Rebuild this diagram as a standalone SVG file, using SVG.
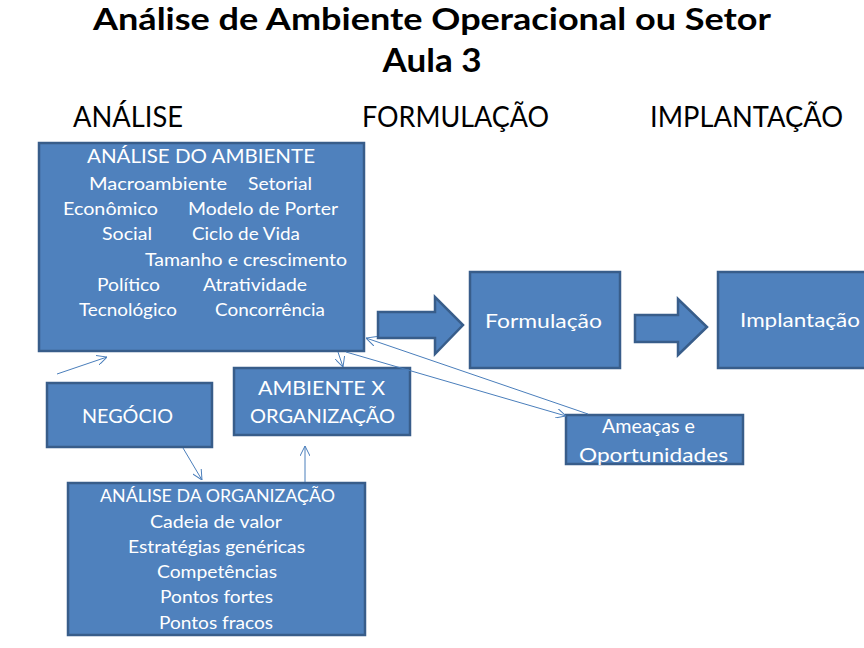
<svg xmlns="http://www.w3.org/2000/svg" width="864" height="648" viewBox="0 0 864 648">
<style>
.box{fill:#4F81BD;stroke:#385D8A;stroke-width:2.5}
.t{font-family:Lato,"Open Sans","Liberation Sans",sans-serif;fill:#FFFFFF}
.h{font-family:Lato,"Open Sans","Liberation Sans",sans-serif;fill:#000000}
.c{fill:none;stroke:#4A7EBB;stroke-width:1}
</style>
<defs>
<marker id="ah" viewBox="0 0 10 10" refX="10" refY="5" markerWidth="10" markerHeight="10" markerUnits="userSpaceOnUse" orient="auto">
<path d="M0,0 L10,5 L0,10" fill="none" stroke="#4A7EBB" stroke-width="1"/>
</marker>
</defs>
<rect width="864" height="648" fill="#FFFFFF"/>

<g id="title">
<text class="h" x="432" y="30" font-size="30" font-weight="bold" text-anchor="middle" textLength="678" lengthAdjust="spacingAndGlyphs">Análise de Ambiente Operacional ou Setor</text>
<text class="h" x="432" y="72" font-size="32" font-weight="bold" text-anchor="middle" textLength="99" lengthAdjust="spacingAndGlyphs">Aula 3</text>
</g>
<g id="headers">
<text class="h" x="73" y="127" font-size="28" textLength="110" lengthAdjust="spacingAndGlyphs">ANÁLISE</text>
<text class="h" x="362" y="127" font-size="28" textLength="187" lengthAdjust="spacingAndGlyphs">FORMULAÇÃO</text>
<text class="h" x="650" y="127" font-size="28" textLength="193" lengthAdjust="spacingAndGlyphs">IMPLANTAÇÃO</text>
</g>

<g id="analise-ambiente">
<rect class="box" x="39" y="143" width="325" height="208"/>
<g class="t" font-size="18.5">
<text x="87" y="163" textLength="228" lengthAdjust="spacingAndGlyphs">ANÁLISE DO AMBIENTE</text>
</g>
<g class="t" font-size="17.5">
<text x="89" y="190" textLength="138" lengthAdjust="spacingAndGlyphs">Macroambiente</text>
<text x="248" y="190" textLength="64" lengthAdjust="spacingAndGlyphs">Setorial</text>
<text x="63" y="215" textLength="95" lengthAdjust="spacingAndGlyphs">Econômico</text>
<text x="188" y="215" textLength="150" lengthAdjust="spacingAndGlyphs">Modelo de Porter</text>
<text x="102" y="240" textLength="50" lengthAdjust="spacingAndGlyphs">Social</text>
<text x="192" y="240" textLength="108" lengthAdjust="spacingAndGlyphs">Ciclo de Vida</text>
<text x="145" y="266" textLength="202" lengthAdjust="spacingAndGlyphs">Tamanho e crescimento</text>
<text x="97" y="291" textLength="63" lengthAdjust="spacingAndGlyphs">Político</text>
<text x="203" y="291" textLength="104" lengthAdjust="spacingAndGlyphs">Atratividade</text>
<text x="79" y="316" textLength="98" lengthAdjust="spacingAndGlyphs">Tecnológico</text>
<text x="215" y="316" textLength="110" lengthAdjust="spacingAndGlyphs">Concorrência</text>
</g>
</g>

<g id="arrow-1">
<path class="box" d="M378,312 L435,312 L435,297 L463,325 L435,354 L435,338 L378,338 Z"/>
</g>
<g id="formulacao">
<rect class="box" x="470" y="272" width="150" height="96"/>
<text class="t" x="485" y="328" font-size="20" textLength="117" lengthAdjust="spacingAndGlyphs">Formulação</text>
</g>
<g id="arrow-2">
<path class="box" d="M635,315 L678,315 L678,299 L707,327 L678,355 L678,342 L635,342 Z"/>
</g>
<g id="implantacao">
<rect class="box" x="718" y="272" width="160" height="96"/>
<text class="t" x="740" y="327" font-size="20" textLength="120" lengthAdjust="spacingAndGlyphs">Implantação</text>
</g>

<g id="negocio">
<rect class="box" x="47" y="383" width="165" height="64"/>
<text class="t" x="82" y="423" font-size="20" textLength="91" lengthAdjust="spacingAndGlyphs">NEGÓCIO</text>
</g>
<g id="ambiente-x-organizacao">
<rect class="box" x="234" y="368" width="176" height="67"/>
<text class="t" x="258" y="395" font-size="20" textLength="127" lengthAdjust="spacingAndGlyphs">AMBIENTE  X</text>
<text class="t" x="250" y="423" font-size="20" textLength="145" lengthAdjust="spacingAndGlyphs">ORGANIZAÇÃO</text>
</g>
<g id="ameacas">
<rect class="box" x="566" y="415" width="177" height="49"/>
<text class="t" x="602" y="433" font-size="19" textLength="93" lengthAdjust="spacingAndGlyphs">Ameaças e</text>
<text class="t" x="579" y="462" font-size="19" textLength="149" lengthAdjust="spacingAndGlyphs">Oportunidades</text>
</g>
<g id="analise-organizacao">
<rect class="box" x="68" y="483" width="297" height="152"/>
<g class="t" font-size="16.5">
<text x="100" y="502" textLength="235" lengthAdjust="spacingAndGlyphs">ANÁLISE DA ORGANIZAÇÃO</text>
<text x="150" y="528" textLength="132" lengthAdjust="spacingAndGlyphs">Cadeia de valor</text>
<text x="128" y="553" textLength="177" lengthAdjust="spacingAndGlyphs">Estratégias genéricas</text>
<text x="157" y="578" textLength="120" lengthAdjust="spacingAndGlyphs">Competências</text>
<text x="160" y="603" textLength="113" lengthAdjust="spacingAndGlyphs">Pontos fortes</text>
<text x="159" y="629" textLength="114" lengthAdjust="spacingAndGlyphs">Pontos fracos</text>
</g>
</g>

<g id="connectors">
<line class="c" x1="57" y1="374" x2="107" y2="357" marker-end="url(#ah)"/>
<line class="c" x1="338" y1="352" x2="343" y2="367" marker-end="url(#ah)"/>
<line class="c" x1="346" y1="352" x2="566" y2="416" marker-end="url(#ah)"/>
<line class="c" x1="588" y1="414" x2="366" y2="338" marker-end="url(#ah)"/>
<line class="c" x1="183" y1="448" x2="202" y2="480" marker-end="url(#ah)"/>
<line class="c" x1="305" y1="482" x2="305" y2="446" marker-end="url(#ah)"/>
</g>
</svg>
